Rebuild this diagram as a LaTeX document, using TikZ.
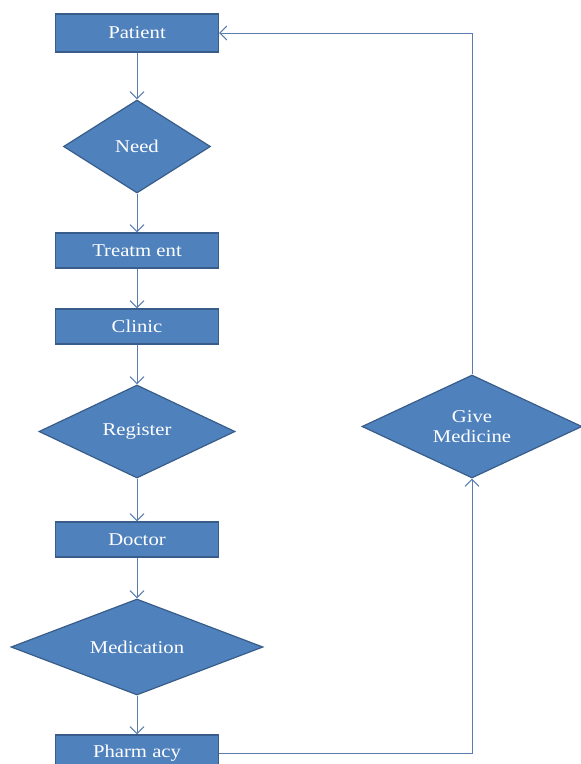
\documentclass[tikz,border=0pt]{standalone}
\usepackage{fontspec}
\setmainfont[FakeStretch=1.15]{Liberation Serif}
\usetikzlibrary{shapes.geometric,arrows.meta,positioning,calc}
\definecolor{boxfill}{HTML}{4F81BD}
\definecolor{boxline}{HTML}{385D8A}
\definecolor{flowline}{HTML}{5A7DB0}
\tikzset{
box/.style={
  draw=boxline, fill=boxfill, line width=1.2pt,
  rectangle, minimum width=163pt, minimum height=36pt,
  text=white, font=\fontsize{18}{20}\selectfont
},
decision/.style={
  draw=boxline, fill=boxfill, line width=1.2pt,
  diamond, aspect=2.5, inner sep=0pt, align=center,
  text=white, font=\fontsize{18}{20}\selectfont
},
flow/.style={draw=flowline, line width=1pt, -{Straight Barb[length=7pt,width=14pt]}},
}

\begin{document}
\begin{tikzpicture}[x=1pt,y=-1pt]
    \useasboundingbox (0,0) rectangle (581,764);
    \fill[white] (0,0) rectangle (581,764);

    % left column
    \node[box, minimum height=38pt] (patient) at (137,33) {Patient};
    \node[decision, minimum width=147pt, minimum height=93pt] (need) at (137,146.5) {Need};
    \node[box, minimum height=35pt] (treatment) at (137,250.5) {Treatm ent};
    \node[box, minimum height=35pt] (clinic) at (137,326.5) {Clinic};
    \node[decision, minimum width=196pt, minimum height=93pt] (register) at (137,431.5) {Register};
    \node[box, minimum height=35pt] (doctor) at (137,539.5) {Doctor};
    \node[decision, minimum width=252pt, minimum height=96pt] (medication) at (137,647) {Medication};
    \node[box, minimum height=36pt] (pharmacy) at (137,753) {Pharm acy};

    % right column
    \node[decision, minimum width=220pt, minimum height=103pt] (give) at (472,426.5) {Give\\Medicine};

    \draw[flow] (patient) -- (need);
    \draw[flow] (need) -- (treatment);
    \draw[flow] (treatment) -- (clinic);
    \draw[flow] (clinic) -- (register);
    \draw[flow] (register) -- (doctor);
    \draw[flow] (doctor) -- (medication);
    \draw[flow] (medication) -- (pharmacy);
    \draw[flow] (pharmacy.east) -| (give.south);
    \draw[flow] (give.north) |- (patient.east);
\end{tikzpicture}
\end{document}
